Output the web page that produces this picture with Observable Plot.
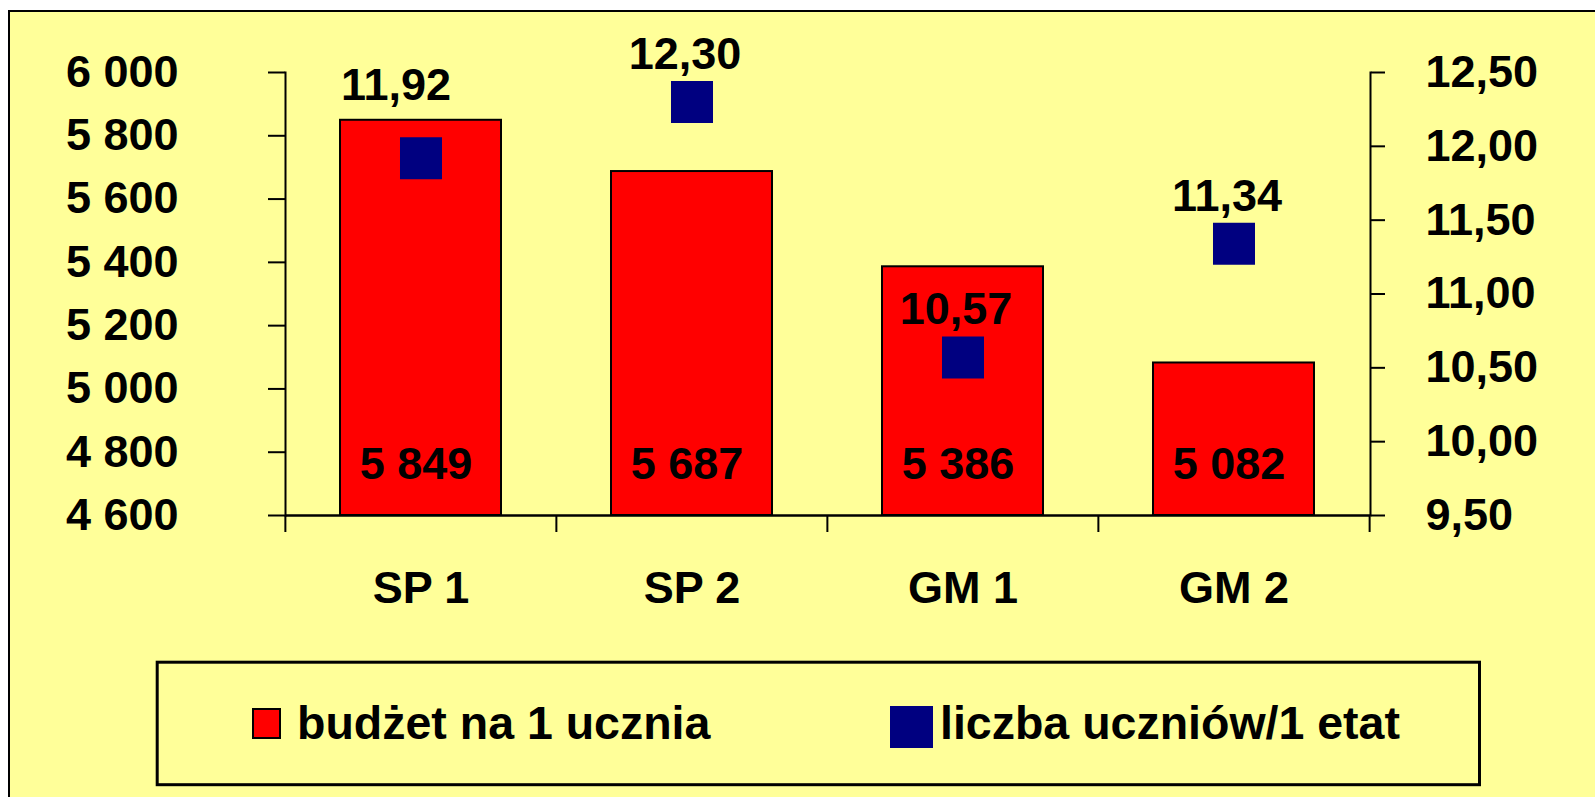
<!DOCTYPE html>
<html><head><meta charset="utf-8">
<script src="https://cdn.jsdelivr.net/npm/d3@7"></script>
<script src="https://cdn.jsdelivr.net/npm/@observablehq/plot@0.6"></script>
<style>
html,body{margin:0;padding:0;background:#fff;}
body{width:1595px;height:797px;overflow:hidden;position:relative;font-family:"Liberation Sans",Arial,sans-serif;}
#frame{position:absolute;left:8px;top:10px;width:1600px;height:800px;background:#FFFF99;border-left:2px solid #000;border-top:2px solid #000;}
#chart{position:absolute;left:0;top:0;}
#legend{position:absolute;left:150px;top:650px;}
</style></head><body>
<div id="frame"></div><div id="chart"></div><div id="legend"></div>
<script>
const categories = ["SP 1", "SP 2", "GM 1", "GM 2"];
const budget = [5849, 5687, 5386, 5082];
const ratio = [11.92, 12.30, 10.57, 11.34];
const leftTicks = [4600, 4800, 5000, 5200, 5400, 5600, 5800, 6000];
const rightTicks = [9.5, 10, 10.5, 11, 11.5, 12, 12.5];
const seriesNames = ["budżet na 1 ucznia", "liczba uczniów/1 etat"];
const seriesColors = ["#FF0000", "#000080"];

const loc = d3.formatLocale({decimal: ",", thousands: " ", grouping: [3], currency: ["", ""]});
const fmtInt = loc.format(",d");
const fmt2 = loc.format(".2f");
const yMin = d3.min(leftTicks), yMax = d3.max(leftTicks);
const toLeft = d3.scaleLinear().domain(d3.extent(rightTicks)).range([yMin, yMax]);

const data = categories.map((c, i) => ({cat: c, budget: budget[i], ratio: ratio[i]}));

const W = 1595, H = 650, mL = 285, mR = 225, mT = 72, mB = 135;
const step = (W - mL - mR) / categories.length;
const FS = 45;

const chart = Plot.plot({
  width: W, height: H,
  marginLeft: mL, marginRight: mR, marginTop: mT, marginBottom: mB,
  x: {domain: categories, paddingInner: 0.405, paddingOuter: 0.2025, label: null},
  y: {domain: [yMin, yMax], label: null},
  style: {background: "transparent", fontFamily: "'Liberation Sans', Arial, sans-serif", fontSize: FS + "px", fontWeight: "bold", color: "black", overflow: "visible"},
  marks: [
    Plot.barY(data, {x: "cat", y1: yMin, y2: "budget", fill: seriesColors[0], stroke: "black", strokeWidth: 2}),
    Plot.ruleY([yMin], {strokeWidth: 2.5}),
    Plot.frame({anchor: "left", strokeWidth: 2}),
    Plot.frame({anchor: "right", strokeWidth: 2}),
    Plot.ruleX(data, {x: "cat", y1: yMin, y2: yMin, insetBottom: -17, dx: -step / 2, strokeWidth: 2}),
    Plot.ruleX(data.slice(-1), {x: "cat", y1: yMin, y2: yMin, insetBottom: -17, dx: step / 2, strokeWidth: 2}),
    Plot.axisY(leftTicks, {anchor: "left", label: null, tickSize: 17, tickPadding: 90, tickFormat: fmtInt, fontSize: FS, fontWeight: "bold", strokeWidth: 2}),
    Plot.axisY(rightTicks.map(toLeft), {anchor: "right", label: null, tickSize: 14, tickPadding: 41, tickFormat: d => fmt2(toLeft.invert(d)), fontSize: FS, fontWeight: "bold", strokeWidth: 2}),
    Plot.axisX({label: null, tickSize: 0, tickPadding: 56, fontSize: FS, fontWeight: "bold"}),
    Plot.text(data, {x: "cat", y: yMin, text: d => fmtInt(d.budget), dy: -37, dx: -5, lineAnchor: "bottom", fontSize: FS, fontWeight: "bold", fill: "black"}),
    Plot.dot(data, {x: "cat", y: d => toLeft(d.ratio), symbol: "square", r: 23.7, fill: seriesColors[1]}),
    Plot.text(data, {filter: (d, i) => i > 0, x: "cat", y: d => toLeft(d.ratio), text: d => fmt2(d.ratio), dy: -33, dx: -7, lineAnchor: "bottom", fontSize: FS, fontWeight: "bold", fill: "black"}),
    Plot.text(data, {filter: (d, i) => i === 0, x: "cat", y: d => toLeft(d.ratio), text: d => fmt2(d.ratio), dy: -58, dx: -25, lineAnchor: "bottom", fontSize: FS, fontWeight: "bold", fill: "black"})
  ]
});
document.getElementById("chart").appendChild(chart);

// legend
const lg = d3.select("#legend").append("svg").attr("width", 1345).attr("height", 147)
  .style("display", "block").style("font-family", "'Liberation Sans', Arial, sans-serif");
lg.append("rect").attr("x", 7.2).attr("y", 12.2).attr("width", 1322.3).attr("height", 122.5)
  .attr("fill", "none").attr("stroke", "black").attr("stroke-width", 3);
const items = [
  {rx: 103, ry: 59, rw: 27, rh: 29, stroke: "black", sw: 2, tx: 147},
  {rx: 740, ry: 56, rw: 43, rh: 42, stroke: "none", sw: 0, tx: 790}
];
seriesNames.forEach((name, i) => {
  const it = items[i];
  lg.append("rect").attr("x", it.rx).attr("y", it.ry).attr("width", it.rw).attr("height", it.rh)
    .attr("fill", seriesColors[i]).attr("stroke", it.stroke).attr("stroke-width", it.sw);
  lg.append("text").attr("x", it.tx).attr("y", 89).attr("font-size", 46.5).attr("font-weight", "bold")
    .attr("fill", "black").text(name);
});
</script>
</body></html>
